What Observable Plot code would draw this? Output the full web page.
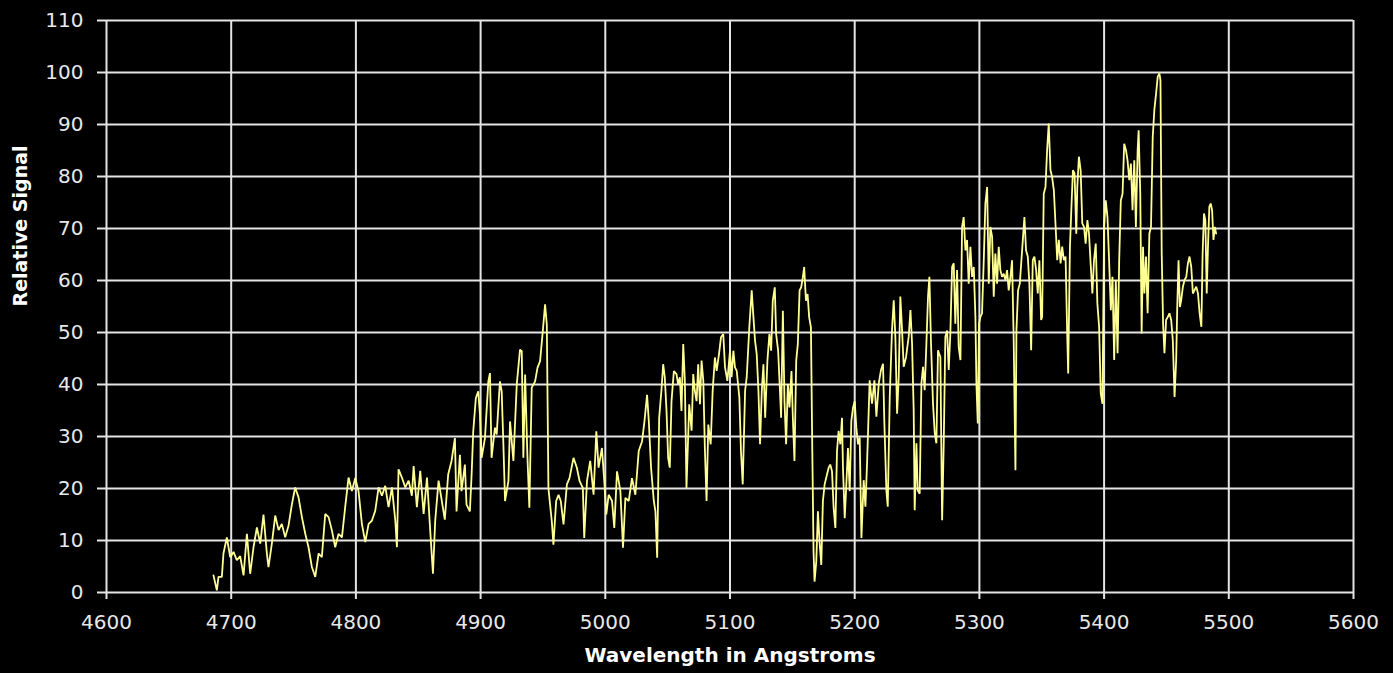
<!DOCTYPE html>
<html><head><meta charset="utf-8">
<script src="https://cdn.jsdelivr.net/npm/d3@7"></script>
<script src="https://cdn.jsdelivr.net/npm/@observablehq/plot@0.6"></script>
<style>
html,body{margin:0;padding:0;background:#000;overflow:hidden;}
#chart svg{display:block;}
</style></head><body><div id="chart"></div>
<script>
const wavelength = [
4685.8,4688.5,4689.8,4692.5,4693.8,4696.5,4699.2,4701.9,4704.5,4707.2,4709.9,4712.6,4715.2,4717.9,4720.6,4723.3,4725.9,4728.6,4729.9,4732.6,4735.3,4738,4740.6,4743.3,4746,4748.7,4751.3,4754,4756.7,4759.4,4762,4764.7,4767.4,4770.1,4772.7,4775.4,4778.1,4780.7,4783.4,4786.1,4788.8,4791.4,4794.1,4796.8,4799.5,4802.1,4804.8,4807.5,4810.2,4812.8,4815.5,4818.2,4820.9,4823.5,4826.2,4828.9,4831.6,4832.9,4834.2,4836.9,4839.6,4842.3,4844.9,4846.3,4848.9,4851.6,4854.3,4857,4859.6,4861.8,4863.6,4866.3,
4871.3,4874,4876.7,4879.4,4880.7,4883.4,4884.7,4887.4,4888.7,4891.4,4892.8,4894.1,4896.2,4898.1,4899.5,4900.8,4903.5,4906.2,4907.5,4908.8,4911.5,4912.9,4915.5,4916.9,4918.2,4919.6,4922.3,4923.6,4926.3,4929,4931.6,4933,4934.3,4935.7,4937.5,4939.1,4941,4943.7,4945.6,4947.7,4949.9,4951.7,4953.1,4954.4,4957.1,4958.4,4960.6,4962.5,4964.3,4966.5,4969.2,4971.3,4974.5,4977.2,4979.4,4982,4983.1,4985.3,4987.9,4990.6,4992.8,4994.6,4997.3,4999.2,5000.8,5002.7,5005.4,5007.2,5009.4,5012.1,5014.2,5016.1,5018.8,5021.4,5024.1,5026.8,5029.5,5031.4,5033.5,5034.9,5036.7,5038.9,5040.2,5041.6,
5043.2,5045,5046.4,5047.7,5049.1,5050.4,5051.7,5053.1,5055,5057.1,5058.4,5059.8,5061.1,5062.5,5063.8,5065.1,5067.3,5069.2,5070.5,5071.8,5073.2,5074.5,5075.9,5077.2,5078.6,5079.9,5081.2,5082.6,5084.5,5086.1,5087.9,5089.3,5091.2,5092.8,5094.6,5096,5097.9,5100,5101.3,5102.7,5104,5105.4,5107.5,5108.8,5110.2,5112.1,5113.4,5115.5,5117.4,5118.8,5120.1,5121.4,5122.8,5124.1,5125.5,5126.8,5128.2,5130,5131.6,5133,5134.3,5135.9,5137,5138.6,5139.7,5141,5142.4,5143.7,5145,5146.4,5147.7,5149.3,5150.4,5151.7,5153.1,5154.4,5155.8,5157.1,5158.4,5159.5,5160.9,5162.2,5163.5,5164.9,5166,5167,5167.8,5169.2,5170.5,5171.8,5173.2,5174.5,5175.9,5177.2,5179.1,5180.4,5181.8,5183.1,5184.5,5185.8,5187.1,5188.5,5189.8,5190.6,5192,5193.3,5194.6,5196,5197.3,5198.7,5200,5201.3,5202.7,5204,5205.4,
5207.2,5208.6,5209.9,5212,5213.9,5215.8,5217.4,5219.3,5221.1,5222.7,5223.8,5225.4,5226.5,5228.1,5229.9,5231.3,5232.6,5234,5235.3,5236.6,5238,5239.3,5241.2,5243.3,5244.7,5246,5247.3,5248.1,5249.5,5250.5,5252.1,5253.5,5254.8,5256.1,5257.5,5258.8,5259.9,5261.2,5262.8,5264.2,5265.5,5266.8,5268.7,5270.1,5271.4,5272.7,5274.1,5275.4,5276.7,5278.1,5279.4,5280.7,5282.1,5283.4,5284.8,5286.1,5287.4,5288.8,5290.1,5291.4,5292.8,5294.1,5295.5,5296.8,5297.6,5298.7,5299.7,5300.8,5302.1,5303.5,5304.8,5306.2,5307.5,5308.8,5310.2,5311.5,5312.8,5314.2,5315.5,5316.8,5318.2,5319.5,5320.9,5322.2,5323.5,5324.9,5326.2,5327.5,5328.9,5329.7,5331,5332.4,5333.7,5335,5336.1,5337.4,5338.8,5340.1,5341.5,5342.8,5344.1,5345.5,5346.8,5348.1,5349.5,
5350.3,5351.6,5353,5354.3,5355.6,5357,5358.3,5359.7,5361,5362.4,5363.7,5365.1,5366.4,5367.7,5369.1,5370.4,5371.2,5372.6,5373.7,5375,5376.3,5377.7,5378.5,5379.8,5381.2,5382.5,5383.9,5385.2,5386.6,5387.9,5389.2,5390.6,5391.9,5393.3,5394.6,5396,5397.3,5398.7,5400,5401.3,5402.7,5404,5405.4,5406.7,5408.1,5409.4,5410.8,5412.1,5413.4,5414.8,5416.1,5417.5,5418.8,5420.2,5421.5,5422.8,5424.2,5425.5,5426.9,5427.7,5429,5430.1,5431.2,5432.3,5433.6,5434.9,5436.3,5437.6,5439,5440.3,5441.7,5443,5444.4,5445.2,5446.2,5447.3,5448.4,5449.7,5451.1,5452.4,5453.8,5455.1,5456.5,5457.8,5458.6,5459.7,5460.8,5461.8,5463.2,5464.5,5465.9,5467.2,5468.5,5469.9,5471.2,5472.6,5473.9,5475.3,5476.6,5478,5479,5480.1,5481.2,5482.3,5483.3,5484.4,5485.5,5486.6,5487.7,5488.8,5489.8
];
const signal = [
3.3,0.4,3,3,7.5,10.6,6.8,7.8,6.2,7,3.3,11.3,3.6,8.7,12.5,9.4,15,7.5,4.9,9.4,14.8,12,13.2,10.6,12.9,17,20.2,18.3,14.5,11.3,8.7,4.9,3,7.5,6.8,15.1,14.5,12,8.7,11.3,10.6,16.4,22.1,19.5,22,19.5,13.2,9.7,13.2,13.8,15.7,20.2,18.6,20.5,16.4,20.2,13.8,8.7,23.7,22.1,20.2,21.5,18.6,24.3,16.4,23.4,15.1,22.1,11.9,3.6,13.8,21.5,
14,22.7,25.3,29.7,15.6,26.5,19.5,24.6,16.9,15.6,22.7,31,37.4,38.7,34.2,25.9,29.7,40.6,42.2,25.9,31.7,30.4,40.6,38.7,29.1,17.6,21.4,32.9,25.3,40,46.7,46.4,25.9,41.9,26.5,16.3,39.4,40.6,43.2,44.5,50.3,55.4,51.5,20,13.7,9.2,17.6,18.8,17.6,13.1,20.8,22,25.9,24,21.4,20.1,10.5,21.4,25.3,18.8,31,24,27.8,21.4,15,18.8,17.6,12.4,23.3,19.5,8.6,18.2,17.6,22,18.8,27.2,29.1,32.9,38,32.9,24,17.6,15.6,6.7,
33.6,38.8,43.9,41.4,34.9,25.9,24,36.8,42.6,42,40.1,41.4,34.9,47.8,40.7,20.1,36.2,31.1,42,38.8,36.8,43.9,36.2,44.6,40.7,27.2,17.6,32.3,28.5,38.8,45.2,42.6,45.9,49.1,49.7,43.3,40.7,46.5,41.4,46.5,43.3,42.6,37.5,27.2,20.8,38.8,41.4,51,58.1,52.9,48.4,45.9,38.8,28.5,38.8,43.9,33.6,44.6,49.7,46.5,56.1,58.7,49.7,46.5,40.7,33.6,54.2,36.8,28.5,40.1,35.6,42.6,33.6,25.3,44.6,47.8,58.1,58.7,60.6,62.6,56.1,57.4,52.9,51,27.2,7.9,2.1,6,15.6,9.8,5.3,17.6,20.8,22.1,24,24.6,23.3,16.3,12.4,27.2,31.1,28.5,33.6,24,14.3,20.8,27.8,19.5,33,35.6,36.8,31.7,28.5,29.8,10.5,
21.6,16.5,24.8,40.8,36.3,40.8,33.8,40.2,42.8,44,32.5,19.7,16.5,37.6,50.4,56.2,49.2,34.4,41.5,56.9,50.4,43.4,45.3,49.2,54.3,47.9,35.1,15.8,28.7,19.7,19,40.2,43.4,38.9,47.9,56.9,60.7,47.9,36.3,30.6,28.7,46.6,45.3,13.9,28.7,49.2,50.4,42.8,49.8,62.6,63.3,51.7,62,47.2,44.7,70.3,72.2,65.8,67.8,59.4,66.5,60.7,62.6,53,40.2,32.5,51.7,53,53.7,63.9,74.8,78,59.4,70.3,68.4,56.9,65.2,59.4,66.5,62,60.7,61.3,60.1,62,58.1,60.7,63.9,48.5,23.5,50.4,58.1,59.4,63.9,68.4,72.2,65.8,64.6,59.4,46.6,63.9,64.6,62,57.5,63.9,52.4,
53,76.7,78,85.1,90.2,81.2,79.9,77.4,71,63.9,67.8,63.3,66.5,63.9,64.6,49.8,42.1,66.5,73.5,81.2,80.6,69,78,83.8,81.2,71,70.3,67.1,71.6,69,63.3,57.5,63.9,67.1,55.6,51.1,38.3,36.3,70.3,75.4,72.2,63.9,54.3,60.7,44.7,60.1,46,63.9,75.4,76.7,86.3,85.1,83.1,79.3,82.5,73.5,83.1,70.3,85.1,88.9,76.7,49.8,66.5,57.5,64.6,53.7,69,70.3,87.6,92.8,96,99.2,99.8,98.5,65.2,51.7,46,52.4,53,53.7,52.4,48.5,37.6,44.7,54.3,63.9,54.9,56.2,58.8,60.1,60.7,63.3,64.6,62.6,57.5,58.2,58.8,57.5,53.7,51.1,65.2,72.9,71.6,57.5,66.5,74.2,74.8,73.5,67.8,70.3,69
];
const xTicks = [4600,4700,4800,4900,5000,5100,5200,5300,5400,5500,5600];
const yTicks = [0,10,20,30,40,50,60,70,80,90,100,110];
const xTitle = "Wavelength in Angstroms";
const yTitle = "Relative Signal";

const n = Math.min(wavelength.length, signal.length);
const spectrum = d3.range(n).map(i => ({wavelength: wavelength[i], signal: signal[i]}));

const gridColor = "#e4e4e4";
const chart = Plot.plot({
  width: 1393,
  height: 673,
  marginLeft: 106,
  marginRight: 40,
  marginTop: 20,
  marginBottom: 81,
  style: {background: "#000", color: "#e8e8e8", fontFamily: "'DejaVu Sans', sans-serif", fontSize: "20px"},
  x: {domain: [4600, 5600]},
  y: {domain: [0, 110]},
  marks: [
    Plot.gridX(xTicks, {stroke: gridColor, strokeOpacity: 1, strokeWidth: 2}),
    Plot.gridY(yTicks, {stroke: gridColor, strokeOpacity: 1, strokeWidth: 2}),
    Plot.axisX(xTicks, {tickSize: 7, tickPadding: 15, tickFormat: d => String(d), label: null, stroke: gridColor, strokeWidth: 2, fontSize: 20}),
    Plot.axisY(yTicks, {tickSize: 9, tickPadding: 14, tickFormat: d => String(d), label: null, stroke: gridColor, strokeWidth: 2, fontSize: 20}),
    Plot.line(spectrum, {x: "wavelength", y: "signal", stroke: "#ffff94", strokeWidth: 1.8, strokeLinejoin: "miter"}),
    Plot.text([xTitle], {text: d => d, frameAnchor: "bottom", dy: 69, fontWeight: "bold", fontSize: 20, fill: "#ffffff"}),
    Plot.text([yTitle], {text: d => d, frameAnchor: "left", dx: -86, rotate: -90, fontWeight: "bold", fontSize: 19, fill: "#ffffff"})
  ]
});
document.getElementById("chart").appendChild(chart);
</script>
</body></html>
